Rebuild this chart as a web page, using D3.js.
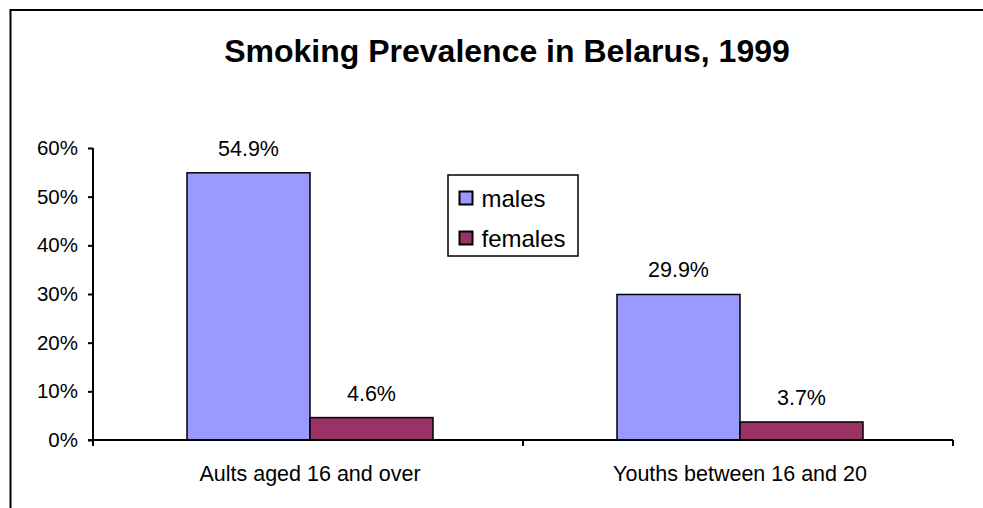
<!DOCTYPE html>
<html><head><meta charset="utf-8">
<script src="https://cdn.jsdelivr.net/npm/d3@7"></script>
<style>body{margin:0;background:#fff;overflow:hidden}svg{display:block}</style>
</head><body>
<svg id="c" width="983" height="508" style="overflow:hidden"></svg>
<script>
const title = "Smoking Prevalence in Belarus, 1999";
const categories = ["Aults aged 16 and over", "Youths between 16 and 20"];
const seriesNames = ["males", "females"];
const males = [54.9, 29.9];
const females = [4.6, 3.7];
const yTicks = [0, 10, 20, 30, 40, 50, 60];
const colors = ["#9999FF", "#993366"];

const svg = d3.select("#c");
const font = "'Liberation Sans', Arial, sans-serif";
// outer frame (only left and top edges visible)
svg.append("path").attr("d", "M10.5,520 V10 H990").attr("fill", "none").attr("stroke", "#000").attr("stroke-width", 2);

svg.append("text").attr("x", 507).attr("y", 62).attr("text-anchor", "middle")
  .attr("font-family", font).attr("font-weight", "bold").attr("font-size", 32).text(title);

const x0 = d3.scaleBand().domain(categories).range([93, 953]).paddingInner(0).paddingOuter(0);
const y = d3.scaleLinear().domain([0, 60]).range([440, 148]);
const groupW = x0.bandwidth() * 246 / 430;
const x1 = d3.scaleBand().domain(seriesNames).range([0, groupW]);

const data = categories.map((c, i) => ({cat: c, vals: [males[i], females[i]]}));

const g = svg.append("g");
data.forEach(d => {
  const gx = x0(d.cat) + (x0.bandwidth() - groupW) / 2 + 2;
  d.vals.forEach((v, j) => {
    const bx = gx + x1(seriesNames[j]);
    g.append("rect").attr("x", bx).attr("y", y(v)).attr("width", x1.bandwidth()).attr("height", y(0) - y(v))
      .attr("fill", colors[j]).attr("stroke", "#000").attr("stroke-width", 1.5);
    g.append("text").attr("x", bx + x1.bandwidth() / 2).attr("y", y(v) - 17).attr("text-anchor", "middle")
      .attr("font-family", font).attr("font-size", 21.5).attr("fill", "#000").text(v.toFixed(1) + "%");
  });
});

// y axis
const yAxis = d3.axisLeft(y).tickValues(yTicks).tickFormat(d => d + "%").tickSize(5).tickPadding(10);
const ya = svg.append("g").attr("transform", "translate(93,0)").call(yAxis);
ya.select(".domain").attr("stroke-width", 2).attr("d", "M0,148V446");
ya.selectAll(".tick line").attr("stroke-width", 2);
ya.selectAll("text").attr("font-family", font).attr("font-size", 20.5).attr("fill", "#000");

// x axis
const xAxis = d3.axisBottom(x0).tickSize(0).tickPadding(25.5);
const xa = svg.append("g").attr("transform", "translate(0,440)").call(xAxis);
xa.select(".domain").attr("stroke-width", 2).attr("d", "M88,0H953");
xa.selectAll("text").attr("font-family", font).attr("font-size", 21.5).attr("fill", "#000").attr("dx", 2);
// category boundary ticks
xa.selectAll(".bt").data(categories.slice(1).map(c => x0(c)).concat([x0.range()[1]]))
  .enter().append("line").attr("x1", d => d).attr("x2", d => d).attr("y1", 0).attr("y2", 6)
  .attr("stroke", "#000").attr("stroke-width", 2);

// legend
const lg = svg.append("g").attr("transform", "translate(448,175)");
lg.append("rect").attr("width", 130).attr("height", 81).attr("fill", "#fff").attr("stroke", "#000").attr("stroke-width", 1.5);
seriesNames.forEach((s, i) => {
  const yy = 23 + i * 40;
  lg.append("rect").attr("x", 11.5).attr("y", yy - 6.5).attr("width", 13).attr("height", 13)
    .attr("fill", colors[i]).attr("stroke", "#000").attr("stroke-width", 2);
  lg.append("text").attr("x", 33.5).attr("y", yy + 8.5).attr("font-family", font).attr("font-size", 24).text(s);
});
</script>
</body></html>
